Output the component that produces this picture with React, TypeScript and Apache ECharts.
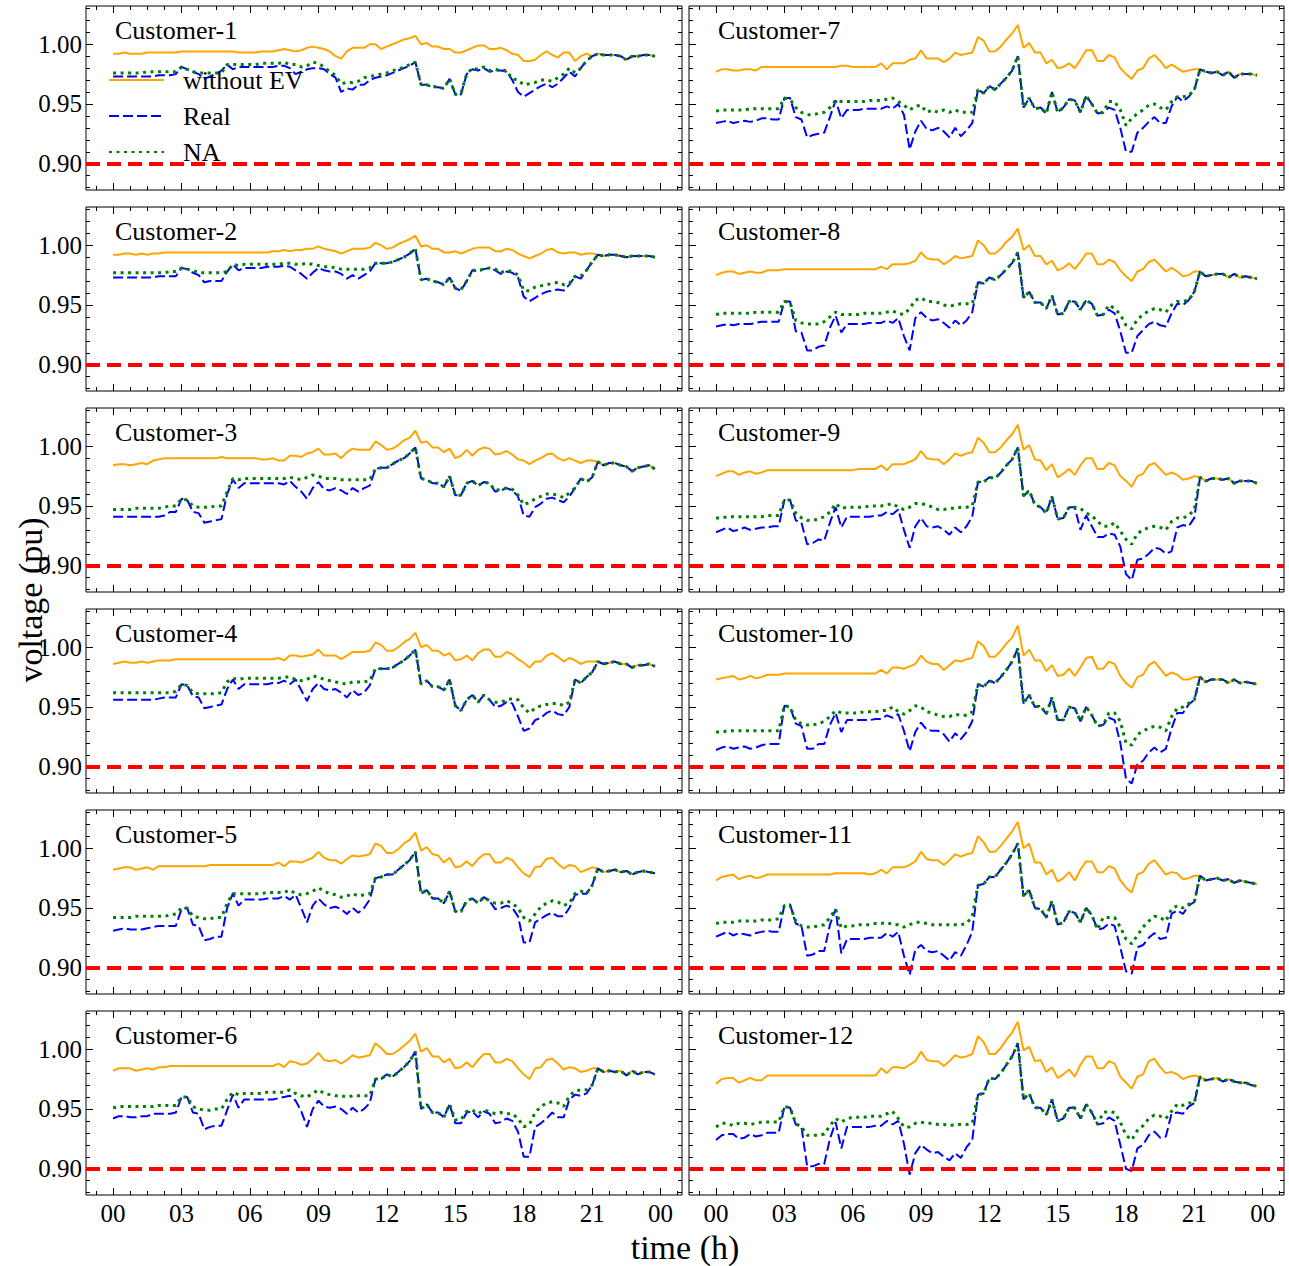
import React, { useEffect, useRef } from "react";
import * as echarts from "echarts";

const FONT = '"Liberation Serif", "Times New Roman", serif';

const customerNames = [
  "Customer-1", "Customer-2", "Customer-3", "Customer-4", "Customer-5", "Customer-6",
  "Customer-7", "Customer-8", "Customer-9", "Customer-10", "Customer-11", "Customer-12",
];
const seriesNames = ["without EV", "Real", "NA"];
const xTickValues = [0, 3, 6, 9, 12, 15, 18, 21, 24];
const xTickLabels = ["00", "03", "06", "09", "12", "15", "18", "21", "00"];
const yTickValues = [0.9, 0.95, 1.0];
const yTickLabels = ["0.90", "0.95", "1.00"];
const voltageLimit = 0.9;
const stepHours = 0.25; // 15-minute samples, 96 per day

// voltages in milli-pu, one value per 15 minutes (00:00 ... 23:45)
const c1WithoutEV = [992,992,993,992, 992,992,993,993, 993,993,993,993,
 994,994,994,994, 994,994,994,994, 994,994,993,993,
 993,993,994,994, 994,995,996,995, 994,995,997,998,
 997,996,994,990, 988,994,997,997, 997,1000,1000,996,
 998,1000,1002,1004, 1005,1007,1000,1001, 998,998,996,996,
 993,993,995,997, 999,999,996,996, 997,995,992,991,
 986,986,987,991, 994,991,989,993, 993,986,990,992,
 990,992,991,991, 991,990,987,990, 990,991,991,990];
const c1Real = [973,973,973,973, 973,973,973,973, 974,974,974,975,
 981,979,977,975, 971,973,975,978, 983,979,981,981,
 981,981,981,981, 981,982,982,980, 975,977,979,980,
 980,979,975,972, 960,963,962,966, 966,970,972,973,
 974,976,978,980, 982,985,966,966, 964,964,963,971,
 958,958,975,979, 978,980,977,978, 978,977,970,960,
 956,959,962,965, 967,964,967,972, 977,973,980,986,
 990,992,991,991, 991,990,987,990, 990,991,991,990];
const c1NA = [976,976,976,976, 976,976,977,977, 977,977,977,977,
 981,979,977,976, 976,976,976,976, 983,983,983,983,
 983,983,984,984, 984,984,985,983, 983,981,982,985,
 984,981,977,974, 967,968,968,969, 972,973,974,975,
 976,978,979,981, 983,985,966,966, 965,964,963,971,
 958,959,975,980, 979,981,978,979, 978,978,971,970,
 966,967,968,970, 970,969,972,975, 980,976,980,986,
 990,992,991,991, 991,990,987,990, 990,991,991,990];

const c2WithoutEV = [992,992,993,993, 992,993,992,993, 993,994,994,994,
 994,994,994,994, 994,994,994,994, 994,994,994,994,
 994,994,994,994, 995,995,996,995, 996,996,997,997,
 999,997,996,995, 993,995,997,997, 997,998,1002,1000,
 997,998,1001,1003, 1005,1008,999,1000, 997,997,994,994,
 995,993,995,997, 998,998,998,995, 995,997,996,993,
 991,989,991,993, 996,997,994,993, 994,994,992,993,
 993,992,991,992, 992,991,990,991, 991,991,991,990];
const c2Real = [973,973,973,973, 973,973,973,973, 974,974,974,974,
 981,980,977,975, 969,970,970,970, 978,984,979,981,
 981,981,981,982, 982,982,983,982, 979,976,972,977,
 981,979,978,978, 976,972,975,972, 975,978,985,985,
 985,986,988,990, 993,997,971,972, 970,969,967,973,
 964,962,970,979, 978,980,981,979, 976,978,977,973,
 957,953,956,959, 961,962,963,962, 967,974,972,979,
 986,992,991,992, 992,991,990,991, 991,991,991,990];
const c2NA = [977,977,977,977, 977,977,977,977, 977,977,978,978,
 981,980,979,977, 977,977,977,977, 978,984,983,984,
 984,984,984,984, 984,984,985,985, 984,984,985,984,
 983,982,982,981, 980,980,980,980, 980,981,985,985,
 985,986,988,990, 993,997,971,972, 970,969,967,973,
 964,963,970,979, 979,980,981,980, 977,979,978,975,
 962,962,965,966, 967,968,969,967, 968,974,974,979,
 986,992,991,992, 992,991,990,991, 991,991,991,990];

const c3WithoutEV = [984,985,985,984, 985,986,985,988, 989,990,990,990,
 990,990,990,990, 990,990,990,991, 990,990,990,990,
 990,990,989,989, 990,988,988,992, 992,991,994,995,
 998,993,993,994, 990,995,998,997, 997,997,1004,1001,
 997,998,1001,1005, 1007,1013,1003,1004, 999,999,995,998,
 990,992,997,992, 997,999,998,993, 994,996,993,989,
 988,985,988,990, 993,994,990,988, 990,988,986,988,
 988,987,984,986, 986,984,983,979, 982,983,984,981];
const c3Real = [941,941,941,941, 941,941,941,941, 941,942,945,945,
 956,955,945,944, 936,937,938,939, 960,972,965,969,
 969,969,969,969, 969,969,968,971, 966,962,956,965,
 970,964,963,965, 963,960,965,962, 965,967,981,982,
 982,985,988,990, 994,999,973,972, 969,969,966,975,
 959,959,969,971, 967,970,969,962, 963,965,963,958,
 942,941,949,952, 956,957,955,953, 958,965,973,970,
 974,987,984,986, 986,984,983,979, 982,983,984,981];
const c3NA = [947,947,947,947, 948,948,948,948, 948,949,950,950,
 956,955,950,949, 949,949,950,950, 962,973,972,973,
 973,973,973,973, 973,973,973,974, 973,972,974,976,
 975,973,973,973, 972,972,972,972, 972,972,981,982,
 982,985,988,990, 994,999,973,972, 969,969,966,975,
 959,959,969,971, 967,970,969,963, 964,965,964,959,
 951,953,956,958, 960,960,959,957, 961,965,973,970,
 974,987,984,986, 986,984,983,979, 982,983,984,981];

const c4WithoutEV = [986,987,988,987, 987,988,987,988, 989,989,989,990,
 990,990,990,990, 990,990,990,990, 990,990,990,990,
 990,990,990,990, 990,991,989,993, 993,992,993,994,
 998,993,993,993, 990,993,996,996, 996,997,1004,1002,
 997,997,1000,1004, 1007,1012,1000,1002, 997,997,993,995,
 989,990,993,989, 995,998,998,992, 992,996,994,990,
 987,983,988,988, 993,995,992,988, 991,989,986,988,
 988,988,986,987, 988,986,986,983, 985,985,986,984];
const c4Real = [956,956,956,956, 956,956,956,956, 957,958,958,958,
 969,968,959,958, 949,950,951,952, 965,973,965,969,
 969,969,969,969, 970,970,972,969, 973,964,955,965,
 970,965,964,965, 962,958,964,960, 962,968,982,982,
 982,983,986,989, 993,998,969,972, 967,967,964,973,
 951,947,956,960, 954,960,956,950, 951,954,953,942,
 930,932,939,941, 945,947,944,943, 950,973,970,975,
 979,988,986,987, 988,986,986,983, 985,985,986,984];
const c4NA = [962,962,962,962, 962,962,962,962, 962,962,962,963,
 969,968,962,961, 961,961,961,962, 971,974,973,974,
 974,974,974,974, 974,974,975,975, 973,972,973,976,
 975,973,972,971, 970,969,971,971, 971,972,982,982,
 982,983,986,989, 993,998,969,972, 967,967,964,973,
 951,947,956,960, 954,960,956,954, 954,956,957,956,
 949,945,949,951, 952,953,953,951, 954,973,970,975,
 979,988,986,987, 988,986,986,983, 985,985,986,984];

const c5WithoutEV = [982,983,984,984, 982,983,984,982, 985,985,985,985,
 985,985,985,985, 985,986,986,986, 986,986,986,986,
 986,986,986,986, 986,988,985,989, 989,988,990,992,
 997,992,990,990, 987,991,994,993, 994,995,1004,1002,
 996,996,999,1004, 1007,1013,998,1001, 995,994,988,992,
 984,985,989,985, 991,995,995,988, 988,992,990,984,
 979,976,984,985, 991,992,987,983, 986,985,980,982,
 984,983,980,981, 982,980,981,978, 980,981,980,979];
const c5Real = [931,932,933,932, 932,932,933,934, 935,935,935,935,
 949,950,936,935, 923,924,926,926, 950,962,952,957,
 957,957,957,958, 958,958,960,957, 961,950,938,952,
 958,953,950,951, 949,945,950,946, 950,957,975,976,
 978,978,982,986, 990,997,962,965, 958,958,954,964,
 947,947,956,958, 954,959,956,949, 950,952,950,943,
 921,921,938,941, 944,946,943,943, 950,961,962,962,
 969,983,980,981, 982,980,981,978, 980,981,980,979];
const c5NA = [942,942,942,942, 943,943,943,943, 943,943,944,945,
 950,950,943,942, 941,941,942,942, 954,962,962,962,
 962,962,962,963, 963,963,963,965, 962,961,962,964,
 967,964,962,961, 959,960,962,960, 961,962,975,976,
 978,978,982,986, 990,997,962,965, 958,958,954,964,
 947,947,956,958, 954,959,956,954, 954,956,954,950,
 942,939,945,951, 954,956,955,952, 954,962,964,962,
 969,983,980,981, 982,980,981,978, 980,981,980,979];

const c6WithoutEV = [982,984,984,984, 982,983,984,983, 985,985,986,986,
 986,986,986,986, 986,986,986,986, 986,986,986,986,
 986,986,986,986, 986,988,985,990, 989,987,988,992,
 997,991,990,991, 988,991,995,993, 994,995,1005,1001,
 996,996,999,1003, 1007,1013,998,1001, 994,994,989,992,
 984,985,989,985, 991,996,996,989, 989,992,990,984,
 979,975,984,985, 991,992,988,983, 985,984,981,982,
 984,984,981,982, 981,982,978,982, 979,981,981,979];
const c6Real = [942,944,944,943, 943,944,944,946, 946,946,946,947,
 960,960,947,946, 933,935,936,936, 949,962,951,958,
 958,958,958,958, 958,959,960,961, 957,948,935,950,
 957,952,951,952, 950,946,951,947, 950,955,975,975,
 979,977,981,985, 990,998,950,954, 947,947,943,954,
 938,938,947,948, 943,948,946,938, 939,942,940,931,
 910,910,935,938, 942,947,943,943, 958,962,961,963,
 970,984,981,982, 981,982,978,982, 979,981,981,979];
const c6NA = [951,952,952,952, 952,952,952,952, 953,953,953,953,
 960,960,952,950, 949,949,950,950, 958,964,962,963,
 963,963,963,964, 964,964,964,966, 963,961,960,963,
 966,963,962,961, 961,960,961,961, 961,961,975,975,
 979,977,981,985, 990,998,950,954, 947,947,943,954,
 941,941,948,949, 946,949,948,946, 947,946,946,942,
 935,937,947,952, 955,956,955,952, 961,965,966,966,
 970,984,981,982, 981,982,978,982, 979,981,981,979];

const c7WithoutEV = [977,979,979,978, 978,979,979,978, 981,981,981,981,
 981,981,981,981, 981,981,981,981, 981,981,982,982,
 981,981,981,981, 981,984,979,984, 984,984,987,988,
 995,988,988,988, 985,988,993,991, 992,993,1006,1003,
 994,994,998,1004, 1009,1016,997,1001, 993,993,984,987,
 980,981,984,980, 987,995,995,986, 986,991,989,980,
 975,971,978,980, 988,991,986,980, 983,980,977,978,
 979,979,977,976, 977,974,977,972, 975,975,975,974];
const c7Real = [934,935,936,934, 935,936,935,936, 938,938,937,937,
 955,955,939,937, 922,924,925,926, 939,953,938,945,
 945,945,946,946, 946,946,948,946, 950,941,912,927,
 936,929,928,930, 927,922,930,923, 928,934,962,959,
 965,962,967,972, 978,990,947,955, 946,947,942,960,
 943,947,954,953, 943,957,950,942, 943,947,945,930,
 910,910,926,930, 935,939,934,934, 948,956,952,956,
 962,979,977,976, 977,974,977,972, 975,975,975,974];
const c7NA = [944,945,945,945, 945,945,946,946, 946,946,946,946,
 955,954,947,943, 941,941,942,943, 947,953,952,952,
 952,952,952,953, 953,953,954,955, 952,949,945,948,
 949,943,945,943, 945,943,945,943, 943,943,962,959,
 965,962,967,972, 978,990,947,955, 946,947,942,960,
 943,947,954,953, 943,957,950,942, 943,952,952,945,
 932,938,942,945, 949,950,947,945, 952,956,956,957,
 962,979,977,976, 977,974,977,972, 975,975,975,974];

const c8WithoutEV = [975,977,978,978, 976,977,978,977, 977,979,979,979,
 980,980,980,980, 980,980,980,980, 980,980,980,980,
 980,980,980,980, 980,982,980,984, 984,984,985,987,
 994,989,988,988, 984,987,991,989, 990,991,1004,1000,
 993,993,997,1003, 1007,1014,996,1000, 991,991,984,987,
 979,981,985,980, 986,993,993,984, 984,988,986,979,
 974,970,978,980, 986,988,983,978, 981,978,974,975,
 978,978,974,975, 976,976,973,976, 973,974,973,972];
const c8Real = [932,933,934,933, 934,934,934,935, 936,936,936,936,
 953,953,928,927, 912,912,915,916, 931,941,927,934,
 934,934,934,935, 935,935,937,935, 939,924,912,939,
 944,939,937,938, 935,931,937,933, 937,944,969,968,
 973,971,975,980, 985,994,956,961, 952,952,947,958,
 942,943,953,953, 946,954,951,941, 942,946,943,928,
 910,910,924,929, 934,936,933,932, 943,951,950,954,
 961,978,974,975, 976,976,973,976, 973,974,973,972];
const c8NA = [942,943,943,943, 943,943,943,944, 944,944,944,944,
 953,952,937,935, 934,934,934,936, 940,944,942,942,
 942,942,943,943, 943,943,944,945, 943,942,947,954,
 956,953,953,952, 950,949,950,951, 951,951,969,968,
 973,971,975,980, 985,994,956,961, 952,952,947,958,
 942,943,953,953, 946,954,951,941, 942,950,947,942,
 933,930,938,942, 945,947,946,944, 950,953,953,954,
 961,978,974,975, 976,976,973,976, 973,974,973,972];

const c9WithoutEV = [975,977,979,979, 976,978,979,977, 978,980,980,980,
 980,980,980,980, 980,980,980,980, 980,980,980,980,
 980,981,981,981, 981,984,980,985, 985,985,987,989,
 996,990,989,989, 985,989,994,992, 994,995,1007,1003,
 995,995,999,1005, 1010,1018,997,1001, 989,988,980,985,
 974,977,981,976, 984,990,990,981, 981,986,984,975,
 971,966,975,977, 984,986,981,976, 978,976,972,973,
 975,974,971,973, 973,972,973,969, 971,971,971,969];
const c9Real = [928,930,932,929, 930,932,930,931, 932,932,933,933,
 955,955,938,936, 918,919,922,921, 936,949,932,941,
 941,941,941,941, 942,942,945,943, 947,930,915,933,
 940,933,932,933, 930,926,932,928, 933,941,970,970,
 974,973,978,984, 989,999,958,963, 951,949,944,958,
 939,940,949,949, 930,942,933,924, 924,927,926,916,
 893,888,905,906, 910,915,914,910, 912,932,934,933,
 940,974,971,973, 973,972,973,969, 971,971,971,969];
const c9NA = [940,940,941,941, 941,941,941,941, 941,942,942,942,
 955,955,944,940, 938,938,939,941, 945,952,948,949,
 949,949,949,950, 950,950,951,952, 949,947,949,952,
 952,951,949,947, 947,948,948,949, 949,950,970,970,
 974,973,978,984, 989,999,958,963, 951,949,944,958,
 939,940,949,949, 948,944,942,937, 933,933,936,929,
 922,918,927,930, 932,933,932,930, 937,940,940,942,
 947,974,971,973, 973,972,973,969, 971,971,971,969];

const c10WithoutEV = [973,974,975,976, 973,974,976,974, 975,977,977,977,
 978,978,978,978, 978,978,978,978, 978,978,978,978,
 978,978,978,978, 978,981,978,983, 983,982,984,986,
 993,988,986,986, 981,985,989,988, 990,991,1005,1001,
 992,992,997,1003, 1008,1018,993,998, 989,989,980,985,
 976,977,982,976, 983,991,992,982, 982,988,986,976,
 970,966,975,977, 985,988,982,976, 979,977,973,973,
 975,975,971,973, 973,973,970,973, 970,971,970,969];
const c10Real = [914,916,917,915, 916,917,915,916, 918,919,919,919,
 951,950,936,934, 915,915,919,919, 935,945,929,939,
 939,939,939,939, 940,940,943,941, 944,930,913,929,
 937,931,930,930, 927,921,928,923, 929,938,969,967,
 972,970,975,981, 988,999,953,960, 950,951,944,958,
 939,939,950,949, 938,950,943,934, 935,941,939,920,
 890,886,902,905, 912,916,912,915, 932,945,945,952,
 956,975,971,973, 973,973,970,973, 970,971,970,969];
const c10NA = [929,929,930,930, 930,930,930,930, 930,930,930,930,
 951,950,939,936, 935,935,936,938, 942,947,945,945,
 945,945,946,946, 946,947,947,950, 946,944,947,951,
 950,946,945,943, 942,942,944,943, 943,946,969,967,
 972,970,975,981, 988,999,953,960, 950,951,944,958,
 939,939,950,949, 938,950,943,934, 935,945,945,938,
 920,918,927,930, 932,934,933,930, 942,949,950,953,
 956,975,971,973, 973,973,970,973, 970,971,970,969];

const c11WithoutEV = [973,976,977,978, 974,976,977,975, 976,978,978,978,
 978,978,978,978, 978,978,978,978, 978,979,979,979,
 979,979,979,978, 979,982,979,984, 984,984,986,989,
 997,991,990,990, 986,990,995,993, 995,996,1010,1005,
 997,997,1002,1008, 1014,1022,1000,1004, 988,988,978,982,
 972,975,980,973, 982,989,989,980, 980,985,983,973,
 967,963,978,980, 987,990,984,978, 980,979,974,975,
 977,977,973,974, 975,973,974,971, 973,972,971,970];
const c11Real = [926,928,930,927, 929,928,927,929, 930,931,930,930,
 952,953,937,935, 910,911,914,914, 936,949,912,924,
 924,924,924,925, 925,925,929,926, 930,910,894,915,
 919,914,913,914, 910,906,913,910, 919,930,969,970,
 976,976,982,988, 995,1004,960,965, 950,949,942,956,
 936,938,947,946, 938,950,944,932, 933,937,935,917,
 897,895,917,919, 925,929,924,925, 945,948,945,952,
 955,977,973,974, 975,973,974,971, 973,972,971,970];
const c11NA = [937,938,938,938, 939,939,939,939, 940,940,940,941,
 952,952,939,935, 934,934,935,936, 942,949,933,935,
 935,936,936,936, 937,937,938,936, 936,934,936,938,
 938,937,936,936, 936,936,936,936, 937,943,969,970,
 976,976,982,988, 995,1004,960,965, 950,949,942,956,
 936,938,947,946, 938,950,944,932, 942,942,942,934,
 924,920,927,934, 939,943,942,939, 949,952,950,953,
 955,977,973,974, 975,973,974,971, 973,972,971,970];

const c12WithoutEV = [971,975,976,976, 972,974,976,974, 974,978,978,978,
 978,978,978,978, 978,978,978,978, 978,978,978,978,
 978,978,978,978, 978,984,980,985, 985,984,987,990,
 998,991,990,990, 986,990,995,993, 994,996,1011,1006,
 996,996,1001,1008, 1014,1023,999,1002, 990,991,981,985,
 976,979,983,977, 987,994,994,984, 984,990,988,977,
 972,967,977,979, 990,992,985,980, 981,979,975,977,
 978,977,974,975, 976,973,975,973, 972,972,970,969];
const c12Real = [924,928,929,929, 925,926,929,927, 928,930,930,930,
 952,951,937,935, 902,902,904,904, 925,939,917,935,
 935,935,935,935, 936,936,940,937, 940,921,895,913,
 920,916,913,914, 910,907,913,909, 918,924,962,963,
 976,975,980,987, 994,1005,958,963, 951,951,945,958,
 940,942,951,951, 942,954,947,937, 938,943,940,920,
 900,898,917,920, 928,931,926,927, 946,947,946,952,
 955,977,974,975, 976,973,975,973, 972,972,970,969];
const c12NA = [935,938,938,936, 938,938,937,938, 939,939,939,939,
 952,951,938,935, 928,928,928,929, 936,942,939,942,
 943,943,943,944, 944,944,946,948, 942,935,935,938,
 939,938,938,937, 937,936,937,937, 937,938,962,963,
 976,975,980,987, 994,1005,958,963, 951,951,945,958,
 940,942,951,951, 942,954,947,937, 947,948,947,939,
 928,924,932,936, 942,945,944,942, 948,954,953,955,
 955,977,974,975, 976,973,975,973, 972,972,970,969];

const customerSeries = [
  [c1WithoutEV, c1Real, c1NA], [c2WithoutEV, c2Real, c2NA], [c3WithoutEV, c3Real, c3NA],
  [c4WithoutEV, c4Real, c4NA], [c5WithoutEV, c5Real, c5NA], [c6WithoutEV, c6Real, c6NA],
  [c7WithoutEV, c7Real, c7NA], [c8WithoutEV, c8Real, c8NA], [c9WithoutEV, c9Real, c9NA],
  [c10WithoutEV, c10Real, c10NA], [c11WithoutEV, c11Real, c11NA], [c12WithoutEV, c12Real, c12NA],
];

const X_MIN = -1.1875;
const X_MAX = 24.9375;
const Y_MIN = 0.878;
const Y_MAX = 1.032;
const xMinorValues = Array.from({ length: 35 }, (_, k) => -0.75 + 0.75 * k);
const yMinorValues = Array.from({ length: 16 }, (_, k) => Math.round((0.88 + 0.01 * k) * 100) / 100);

const lineStyles = [
  { color: "#FFA500", width: 2, type: "solid" as any },
  { color: "#0000FF", width: 2, type: [10, 4] as any },
  { color: "#008000", width: 3, type: [3, 4.5] as any },
];

function buildOption() {
  const grid: any[] = [];
  const xAxis: any[] = [];
  const yAxis: any[] = [];
  const series: any[] = [];
  const graphic: any[] = [];
  const tickLine = { color: "#000", width: 1 };
  const noLine = { show: false, onZero: false };

  for (let k = 0; k < 12; k++) {
    const col = k < 6 ? 0 : 1;
    const row = k % 6;
    const left = col === 0 ? 86 : 689;
    const width = col === 0 ? 596 : 595;
    const top = 6 + 201 * row;
    const height = 184;
    const isBottom = row === 5;
    const isLeft = col === 0;
    grid.push({ left, top, width, height, show: true, borderColor: "#000", borderWidth: 1, backgroundColor: "transparent" });

    const xb = { gridIndex: k, type: "value", min: X_MIN, max: X_MAX, axisLine: noLine, splitLine: { show: false } };
    xAxis.push({
      ...xb, position: "bottom",
      axisTick: { show: true, inside: true, length: 7, customValues: xTickValues, lineStyle: tickLine },
      axisLabel: {
        show: isBottom, customValues: xTickValues, margin: 6, fontSize: 25, fontFamily: FONT, color: "#000",
        formatter: (v: number) => { const i = xTickValues.findIndex((t) => Math.abs(t - v) < 1e-6); return i >= 0 ? xTickLabels[i] : ""; },
      },
    });
    xAxis.push({ ...xb, position: "bottom", axisTick: { show: true, inside: true, length: 4, customValues: xMinorValues, lineStyle: tickLine }, axisLabel: { show: false } });
    xAxis.push({ ...xb, position: "top", axisTick: { show: true, inside: true, length: 7, customValues: xTickValues, lineStyle: tickLine }, axisLabel: { show: false } });
    xAxis.push({ ...xb, position: "top", axisTick: { show: true, inside: true, length: 4, customValues: xMinorValues, lineStyle: tickLine }, axisLabel: { show: false } });

    const yb = { gridIndex: k, type: "value", min: Y_MIN, max: Y_MAX, axisLine: noLine, splitLine: { show: false } };
    yAxis.push({
      ...yb, position: "left",
      axisTick: { show: true, inside: true, length: 7, customValues: yTickValues, lineStyle: tickLine },
      axisLabel: {
        show: isLeft, customValues: yTickValues, margin: 4, fontSize: 25, fontFamily: FONT, color: "#000",
        formatter: (v: number) => { const i = yTickValues.findIndex((t) => Math.abs(t - v) < 1e-6); return i >= 0 ? yTickLabels[i] : ""; },
      },
    });
    yAxis.push({ ...yb, position: "left", axisTick: { show: true, inside: true, length: 4, customValues: yMinorValues, lineStyle: tickLine }, axisLabel: { show: false } });
    yAxis.push({ ...yb, position: "right", axisTick: { show: true, inside: true, length: 7, customValues: yTickValues, lineStyle: tickLine }, axisLabel: { show: false } });
    yAxis.push({ ...yb, position: "right", axisTick: { show: true, inside: true, length: 4, customValues: yMinorValues, lineStyle: tickLine }, axisLabel: { show: false } });

    customerSeries[k].forEach((vals, s) => {
      const isLast = s === 2;
      series.push({
        type: "line",
        name: seriesNames[s],
        xAxisIndex: k * 4,
        yAxisIndex: k * 4,
        data: vals.map((v, i) => [i * stepHours, v / 1000]),
        symbol: "none",
        showSymbol: false,
        lineStyle: lineStyles[s],
        itemStyle: { color: lineStyles[s].color },
        z: 2 + s,
        silent: true,
        markLine: isLast
          ? {
              silent: true,
              symbol: ["none", "none"],
              label: { show: false },
              lineStyle: { color: "#FF0000", width: 4, type: [14, 7] },
              data: [{ yAxis: voltageLimit }],
              z: 10,
            }
          : undefined,
      });
    });

    graphic.push({
      type: "text",
      x: left + 29,
      y: top + 24,
      z: 100,
      style: { text: customerNames[k], font: `26px ${FONT}`, fill: "#000", textAlign: "left", textVerticalAlign: "middle", align: "left", verticalAlign: "middle" },
    });
  }

  graphic.push({
    type: "text", x: 30, y: 600, rotation: Math.PI / 2, z: 100,
    style: { text: "voltage (pu)", font: `34px ${FONT}`, fill: "#000", textAlign: "center", textVerticalAlign: "middle", align: "center", verticalAlign: "middle" },
  });
  graphic.push({
    type: "text", x: 685, y: 1247, z: 100,
    style: { text: "time (h)", font: `34px ${FONT}`, fill: "#000", textAlign: "center", textVerticalAlign: "middle", align: "center", verticalAlign: "middle" },
  });

  return {
    animation: false,
    backgroundColor: "#fff",
    textStyle: { fontFamily: FONT },
    legend: {
      data: seriesNames,
      orient: "vertical",
      left: 108,
      top: 67,
      padding: 0,
      itemWidth: 55,
      itemHeight: 14,
      itemGap: 10,
      selectedMode: false,
      itemStyle: { opacity: 0 },
      textStyle: { fontSize: 26, fontFamily: FONT, color: "#000", padding: [0, 0, 0, 14] },
    },
    grid,
    xAxis,
    yAxis,
    series,
    graphic,
  };
}

export default function App() {
  const ref = useRef<HTMLDivElement>(null);
  useEffect(() => {
    if (!ref.current) return;
    const chart = echarts.init(ref.current, undefined, { renderer: "svg" });
    chart.setOption(buildOption() as any);
    return () => chart.dispose();
  }, []);
  return <div ref={ref} style={{ position: "absolute", left: 0, top: 0, width: 1289, height: 1266, background: "#fff" }} />;
}
